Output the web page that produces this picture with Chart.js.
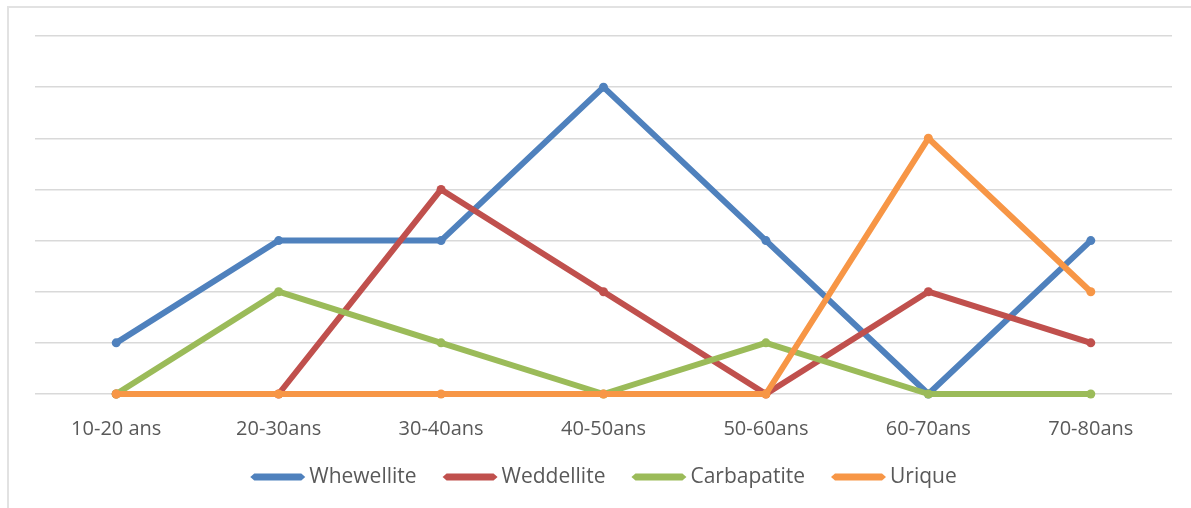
<!DOCTYPE html>
<html>
<head>
<meta charset="utf-8">
<script src="https://cdn.jsdelivr.net/npm/chart.js@4/dist/chart.umd.min.js"></script>
<style>
  html, body { margin: 0; padding: 0; background: #ffffff; }
  #wrap { position: relative; width: 1191px; height: 508px; overflow: hidden; }
  #frame { position: absolute; left: 7px; top: 6px; width: 1200px; height: 520px; border: 2px solid #e2e2e2; box-sizing: border-box; }
  #c { position: absolute; left: 0; top: 0; }
</style>
</head>
<body>
<div id="wrap">
  <div id="frame"></div>
  <canvas id="c" width="1191" height="508"></canvas>
</div>
<script>
// Age groups on the x axis
const categories = ['10-20 ans', '20-30ans', '30-40ans', '40-50ans', '50-60ans', '60-70ans', '70-80ans'];

// Number of cases per stone type
const whewellite  = [1, 3, 3, 6, 3, 0, 3];
const weddellite  = [0, 0, 4, 2, 0, 2, 1];
const carbapatite = [0, 2, 1, 0, 1, 0, 0];
const urique      = [0, 0, 0, 0, 0, 5, 2];

const seriesNames  = ['Whewellite', 'Weddellite', 'Carbapatite', 'Urique'];
const seriesValues = [whewellite, weddellite, carbapatite, urique];
const seriesColors = ['#4F81BD', '#C0504D', '#9BBB59', '#F79646'];

const FONT = "'Open Sans', 'Liberation Sans', sans-serif";
const TEXT = '#595959';
const LINE_W = 6;

const datasets = seriesNames.map((name, i) => ({
  label: name,
  data: seriesValues[i],
  borderColor: seriesColors[i],
  backgroundColor: seriesColors[i],
  borderWidth: LINE_W,
  pointRadius: 4.5,
  pointHoverRadius: 4.5,
  pointBorderWidth: 0,
  borderJoinStyle: 'round',
  borderCapStyle: 'round',
  tension: 0,
  fill: false,
  clip: false,
  // later series are painted over earlier ones
  order: seriesNames.length - i
}));

// Legend row under the axis: line sample + name, centred on the plot area
const lineLegend = {
  id: 'lineLegend',
  afterDraw(chart) {
    const ctx = chart.ctx;
    const sampleW = 55, textGap = 4, itemGap = 26, y = 477;
    ctx.save();
    ctx.font = "21px " + FONT;
    ctx.textBaseline = 'middle';
    const items = chart.data.datasets.map(ds => ({
      label: ds.label, color: ds.borderColor,
      w: sampleW + textGap + ctx.measureText(ds.label).width
    }));
    const total = items.reduce((s, it) => s + it.w, 0) + itemGap * (items.length - 1);
    const area = chart.chartArea;
    let x = (area.left + area.right) / 2 - total / 2;
    items.forEach(it => {
      // tapered line sample
      ctx.fillStyle = it.color;
      ctx.beginPath();
      ctx.moveTo(x, y);
      ctx.lineTo(x + 4, y - 3.5);
      ctx.lineTo(x + sampleW - 4, y - 3.5);
      ctx.lineTo(x + sampleW, y);
      ctx.lineTo(x + sampleW - 4, y + 3.5);
      ctx.lineTo(x + 4, y + 3.5);
      ctx.closePath();
      ctx.fill();
      ctx.fillStyle = TEXT;
      ctx.textAlign = 'left';
      ctx.fillText(it.label, x + sampleW + textGap, y);
      x += it.w + itemGap;
    });
    ctx.restore();
  }
};

new Chart(document.getElementById('c'), {
  type: 'line',
  data: { labels: categories, datasets },
  options: {
    responsive: false,
    animation: false,
    layout: { padding: { left: 35, right: 19, top: 36, bottom: 52 } },
    scales: {
      x: {
        offset: true,
        grid: { display: false },
        border: { display: false },
        ticks: { color: TEXT, font: { family: FONT, size: 20 }, padding: 15, maxRotation: 0 }
      },
      y: {
        min: 0,
        max: 7,
        ticks: { display: false, stepSize: 1 },
        grid: { color: '#d9d9d9', lineWidth: 1.5, drawTicks: false },
        border: { display: false }
      }
    },
    plugins: {
      tooltip: { enabled: false },
      legend: { display: false }
    }
  },
  plugins: [lineLegend]
});
</script>
</body>
</html>
